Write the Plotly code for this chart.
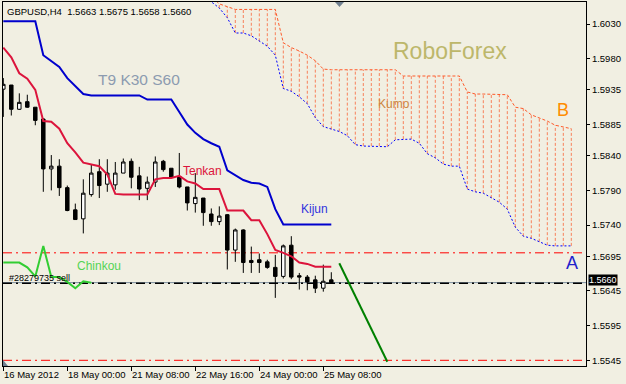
import plotly.graph_objects as go

# ---------------- data ----------------
bars = list(range(42))
open_ = [1.5936, 1.5942, 1.5907, 1.5918, 1.5910, 1.5893, 1.5821, 1.5825, 1.5794, 1.5762,
         1.5749, 1.5784, 1.5817, 1.5799, 1.5798, 1.5815, 1.5832, 1.5811, 1.5793, 1.5802,
         1.5832, 1.5822, 1.5810, 1.5795, 1.5771, 1.5779, 1.5756, 1.5745, 1.5755, 1.5704,
         1.5733, 1.5689, 1.5690, 1.5687, 1.5679, 1.5666, 1.5711, 1.5667, 1.5665, 1.5661,
         1.5649, 1.5661]
high = [1.5952, 1.5942, 1.5930, 1.5928, 1.5910, 1.5894, 1.5841, 1.5835, 1.5797, 1.5771,
        1.5806, 1.5827, 1.5835, 1.5835, 1.5831, 1.5836, 1.5836, 1.5824, 1.5810, 1.5839,
        1.5834, 1.5822, 1.5844, 1.5795, 1.5815, 1.5779, 1.5764, 1.5767, 1.5756, 1.5735,
        1.5734, 1.5709, 1.5699, 1.5690, 1.5697, 1.5712, 1.5724, 1.5671, 1.5668, 1.5667,
        1.5683, 1.5672]
low = [1.5896, 1.5898, 1.5906, 1.5909, 1.5884, 1.5788, 1.5790, 1.5782, 1.5760, 1.5748,
       1.5728, 1.5781, 1.5779, 1.5788, 1.5791, 1.5815, 1.5793, 1.5776, 1.5776, 1.5795,
       1.5817, 1.5809, 1.5793, 1.5761, 1.5758, 1.5739, 1.5739, 1.5740, 1.5676, 1.5687,
       1.5671, 1.5671, 1.5671, 1.5677, 1.5635, 1.5663, 1.5662, 1.5647, 1.5646, 1.5642,
       1.5644, 1.5656]
close = [1.5943, 1.5907, 1.5917, 1.5910, 1.5891, 1.5821, 1.5825, 1.5794, 1.5761, 1.5748,
         1.5786, 1.5815, 1.5797, 1.5815, 1.5815, 1.5831, 1.5809, 1.5792, 1.5802, 1.5831,
         1.5820, 1.5809, 1.5795, 1.5772, 1.5780, 1.5758, 1.5745, 1.5753, 1.5704, 1.5733,
         1.5686, 1.5686, 1.5686, 1.5679, 1.5666, 1.5710, 1.5665, 1.5665, 1.5658, 1.5649,
         1.5659, 1.5657]

tenkan = [1.5996, 1.5982, 1.5959, 1.5951, 1.5935, 1.5890, 1.5889, 1.5879, 1.5858, 1.5845,
          1.5830, 1.5828, 1.5825, 1.5813, 1.5785, 1.5784, 1.5784, 1.5784, 1.5784, 1.5806,
          1.5808, 1.5808, 1.5811, 1.5803, 1.5800, 1.5792, 1.5792, 1.5792, 1.5761, 1.5761,
          1.5761, 1.5747, 1.5747, 1.5727, 1.5704, 1.5700, 1.5695, 1.5686, 1.5684, 1.5680,
          1.5680, 1.5680]
kijun = [1.6034, 1.6034, 1.6034, 1.6034, 1.6034, 1.5985, 1.5977, 1.5968, 1.5952, 1.5941,
         1.5929, 1.5927, 1.5927, 1.5927, 1.5927, 1.5927, 1.5927, 1.5927, 1.5921, 1.5921,
         1.5921, 1.5921, 1.5903, 1.5885, 1.5873, 1.5864, 1.5858, 1.5853, 1.5819, 1.5812,
         1.5805, 1.5801, 1.5800, 1.5795, 1.5763, 1.5741, 1.5741, 1.5741, 1.5741, 1.5741,
         1.5741, 1.5741]

chinkou_idx = list(range(12))
chinkou = [1.5686, 1.5686, 1.5686, 1.5679, 1.5666, 1.5710, 1.5665, 1.5665, 1.5658, 1.5649,
           1.5659, 1.5657]

span_idx = list(range(25, 72))
senkou_a = [1.6080, 1.6062, 1.6053, 1.6039, 1.6017, 1.6017, 1.6013, 1.6005, 1.5998, 1.5985,
            1.5937, 1.5933, 1.5925, 1.5915, 1.5895, 1.5882, 1.5878, 1.5875, 1.5869, 1.5856,
            1.5854, 1.5854, 1.5854, 1.5853, 1.5863, 1.5864, 1.5864, 1.5858, 1.5843, 1.5837,
            1.5828, 1.5825, 1.5825, 1.5792, 1.5788, 1.5786, 1.5779, 1.5773, 1.5763, 1.5737,
            1.5724, 1.5721, 1.5716, 1.5711, 1.5710, 1.5710, 1.5710]
senkou_b = [1.6085, 1.6070, 1.6059, 1.6055, 1.6051, 1.6051, 1.6051, 1.6051, 1.6051, 1.6051,
            1.6003, 1.5996, 1.5991, 1.5985, 1.5977, 1.5965, 1.5964, 1.5964, 1.5964, 1.5964,
            1.5964, 1.5964, 1.5964, 1.5964, 1.5964, 1.5955, 1.5955, 1.5955, 1.5955, 1.5955,
            1.5955, 1.5955, 1.5955, 1.5932, 1.5929, 1.5929, 1.5929, 1.5929, 1.5928, 1.5910,
            1.5908, 1.5899, 1.5895, 1.5890, 1.5884, 1.5882, 1.5879]

trend_idx = [42, 48]
trend_price = [1.5685, 1.5543]

red_levels = [1.5700, 1.5545]
bid_price = 1.5657
order_price = 1.5656
order_label = "#28279735 sell"
header = "GBPUSD,H4  1.5663 1.5675 1.5658 1.5660"
bid_text = "1.5660"

x_tick_bars = [0, 8, 16, 24, 32, 40]
x_tick_text = ["16 May 2012", "18 May 00:00", "21 May 08:00", "22 May 16:00",
               "24 May 00:00", "25 May 08:00"]
y_tick_vals = [1.6030, 1.5980, 1.5935, 1.5885, 1.5840, 1.5790, 1.5740, 1.5695,
               1.5645, 1.5595, 1.5545]
y_tick_text = ["%.4f" % v for v in y_tick_vals]

# ---------------- layout geometry ----------------
W, H = 626, 384
PL, PR, PT, PB = 3, 586, 2, 366
BG = "#F1EFE2"
FONT = "Liberation Sans, Arial, sans-serif"


def fx(px):
    return (px - PL) / (PR - PL)


def fy(py):
    return (PB - py) / (PB - PT)


fig = go.Figure()

# Kumo hatching (vertical dashed segments between the spans)
hx, hy = [], []
for k, a, b in zip(span_idx, senkou_a, senkou_b):
    hx += [k, k, None]
    hy += [a, b, None]
fig.add_trace(go.Scatter(x=hx, y=hy, mode="lines",
                         line=dict(color="#F8805A", width=1, dash="3px,2px"),
                         hoverinfo="skip"))
fig.add_trace(go.Scatter(x=span_idx, y=senkou_b, mode="lines",
                         line=dict(color="#FF5A2A", width=1, dash="3px,2px")))
fig.add_trace(go.Scatter(x=span_idx, y=senkou_a, mode="lines",
                         line=dict(color="#0000FF", width=1, dash="2px,2px")))

# Tenkan / Kijun / Chinkou
fig.add_trace(go.Scatter(x=bars, y=kijun, mode="lines",
                         line=dict(color="#0000CD", width=2)))
fig.add_trace(go.Scatter(x=bars, y=tenkan, mode="lines",
                         line=dict(color="#DC143C", width=2)))
fig.add_trace(go.Scatter(x=chinkou_idx, y=chinkou, mode="lines",
                         line=dict(color="#32CD32", width=2)))

# Candles
fig.add_trace(go.Candlestick(
    x=bars, open=open_, high=high, low=low, close=close,
    increasing=dict(fillcolor="#FFFFFF", line=dict(color="#000000", width=1)),
    decreasing=dict(fillcolor="#000000", line=dict(color="#000000", width=1)),
    whiskerwidth=0))

# Trend line
fig.add_trace(go.Scatter(x=trend_idx, y=trend_price, mode="lines",
                         line=dict(color="#008000", width=2)))

shapes = []
for lv in red_levels:
    shapes.append(dict(type="line", xref="paper", x0=0, x1=1, yref="y", y0=lv, y1=lv,
                       line=dict(color="#FF0000", width=1, dash="9px,4px,2px,4px"),
                       layer="below"))
shapes.append(dict(type="line", xref="paper", x0=0, x1=1, yref="y", y0=bid_price, y1=bid_price,
                   line=dict(color="#7A8C9C", width=1), layer="below"))
shapes.append(dict(type="line", xref="paper", x0=0, x1=1, yref="y", y0=order_price, y1=order_price,
                   line=dict(color="#000000", width=1.5, dash="9px,4px,2px,4px"), layer="below"))
# chart shift marker (top) and scroll marker (bottom-left)
shapes.append(dict(type="path", xref="paper", yref="paper",
                   path="M %f,%f L %f,%f L %f,%f Z" % (fx(335), fy(2), fx(344), fy(2), fx(339.5), fy(7)),
                   fillcolor="#708090", line=dict(width=0)))
shapes.append(dict(type="path", xref="paper", yref="paper",
                   path="M %f,%f L %f,%f L %f,%f Z" % (fx(3), fy(360), fx(3), fy(366), fx(8), fy(366)),
                   fillcolor="#708090", line=dict(width=0)))

ann = []


def txt(text, x, y, size, color, **kw):
    d = dict(text=text, xref="paper", yref="paper", x=fx(x), y=fy(y), xanchor="left",
             yanchor="middle", showarrow=False, borderpad=0,
             font=dict(family=FONT, size=size, color=color))
    d.update(kw)
    ann.append(d)


txt(header, 6, 11, 9.5, "#000000")
txt("T9 K30 S60", 96.5, 79, 15.5, "#8C9BB0")
txt("RoboForex", 391.5, 51.5, 23, "#BDB76B")
txt("Kumo", 377, 104, 12, "#CD853F")
txt("B", 556, 110, 18, "#FF8C00")
txt("A", 564.5, 263, 18, "#2222CC")
txt("Tenkan", 182, 171, 12, "#DC143C")
txt("Kijun", 300, 208.5, 12, "#3333DD")
txt("Chinkou", 76, 266, 12, "#55D455")
txt(order_label, 8, 277.5, 9, "#000000")

for b, t in zip(x_tick_bars, x_tick_text):
    ann.append(dict(text=t, xref="x", yref="paper", x=b, y=fy(375), xanchor="left",
                    yanchor="middle", showarrow=False, borderpad=0,
                    font=dict(family=FONT, size=9.5, color="#000000")))

ann.append(dict(text=bid_text, xref="paper", yref="paper", x=fx(587.5), y=fy(280.3),
                xanchor="left", yanchor="middle", showarrow=False, bgcolor="#000000",
                borderpad=0, font=dict(family=FONT, size=9, color="#FFFFFF")))

fig.update_layout(
    width=W, height=H,
    margin=dict(l=PL, r=W - PR, t=PT, b=H - PB, pad=0),
    paper_bgcolor=BG, plot_bgcolor=BG,
    showlegend=False, boxgap=0.38,
    shapes=shapes, annotations=ann,
    xaxis=dict(range=[(PL - 3.3) / 8, (PR - 3.3) / 8], showgrid=False, zeroline=False,
               showline=True, mirror=True, linecolor="#000000", linewidth=1,
               ticks="outside", ticklen=4, tickcolor="#000000",
               tickvals=x_tick_bars, showticklabels=False,
               rangeslider=dict(visible=False), fixedrange=True),
    yaxis=dict(range=[1.6030 - (PB - 24) / 6934, 1.6030 + (24 - PT) / 6934],
               side="right", showgrid=False, zeroline=False,
               showline=True, mirror=True, linecolor="#000000", linewidth=1,
               ticks="outside", ticklen=3, tickcolor="#000000",
               tickvals=y_tick_vals, ticktext=y_tick_text,
               tickfont=dict(family=FONT, size=9.5, color="#000000"), fixedrange=True),
)

fig.write_html("out.html", config={"displayModeBar": False},
               post_script="document.body.style.margin='0px';"
                           "document.body.style.padding='0px';"
                           "document.body.style.background='" + BG + "';")
